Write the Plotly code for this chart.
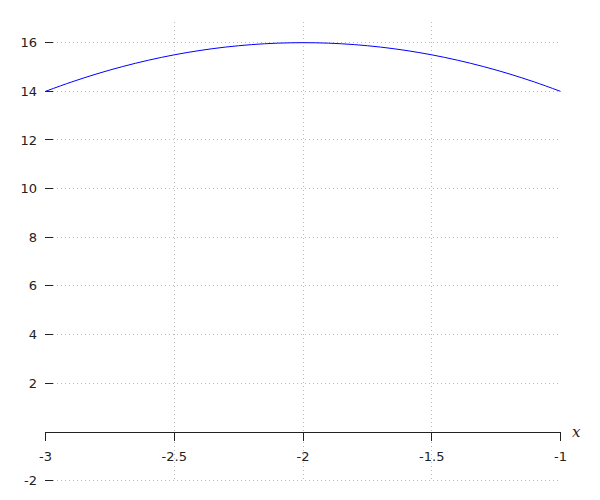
import plotly.graph_objects as go

x_vals = [-3.0, -2.9, -2.8, -2.7, -2.6, -2.5, -2.4, -2.3, -2.2, -2.1, -2.0,
          -1.9, -1.8, -1.7, -1.6, -1.5, -1.4, -1.3, -1.2, -1.1, -1.0]
y_vals = [14.0, 14.38, 14.72, 15.02, 15.28, 15.5, 15.68, 15.82, 15.92, 15.98, 16.0,
          15.98, 15.92, 15.82, 15.68, 15.5, 15.28, 15.02, 14.72, 14.38, 14.0]

x_ticks = [-3, -2.5, -2, -1.5, -1]
x_tick_labels = ["-3", "-2.5", "-2", "-1.5", "-1"]
y_ticks = [-2, 2, 4, 6, 8, 10, 12, 14, 16]
y_tick_labels = ["-2", "2", "4", "6", "8", "10", "12", "14", "16"]

x_range = [-3.002, -0.998]
y_range = [-2.06, 16.85]
x_axis_pos = (0 - y_range[0]) / (y_range[1] - y_range[0])

fig = go.Figure()
fig.add_trace(go.Scatter(x=x_vals, y=y_vals, mode="lines",
                         line=dict(color="blue", width=1, shape="spline"),
                         hoverinfo="skip", showlegend=False, cliponaxis=False))

font = dict(family="DejaVu Sans", size=13, color="#222")
grid = dict(showgrid=True, gridcolor="#bbbbbb", griddash="1px,3px", gridwidth=1)

fig.update_layout(
    width=600, height=500,
    margin=dict(l=37, r=47, t=14, b=26),
    plot_bgcolor="white", paper_bgcolor="white",
    font=font,
    xaxis=dict(range=x_range, tickvals=x_ticks, ticktext=x_tick_labels,
               anchor="free", position=x_axis_pos, automargin=False,
               showline=True, linecolor="#222", linewidth=1,
               ticks="outside", ticklen=8, tickcolor="#222", tickwidth=1,
               ticklabelstandoff=5,
               zeroline=False, **grid),
    yaxis=dict(range=y_range, tickvals=y_ticks, ticktext=y_tick_labels,
               automargin=False,
               showline=False, ticks="inside", ticklen=8, tickcolor="#222", tickwidth=1,
               ticklabelstandoff=7,
               zeroline=False, **grid),
    annotations=[dict(text="x", xref="paper", yref="y", x=1.0, y=0,
                      xanchor="left", yanchor="middle", xshift=9,
                      showarrow=False,
                      font=dict(family="DejaVu Serif", size=15, color="#222",
                                style="italic"))],
)

fig.write_html("out.html")
